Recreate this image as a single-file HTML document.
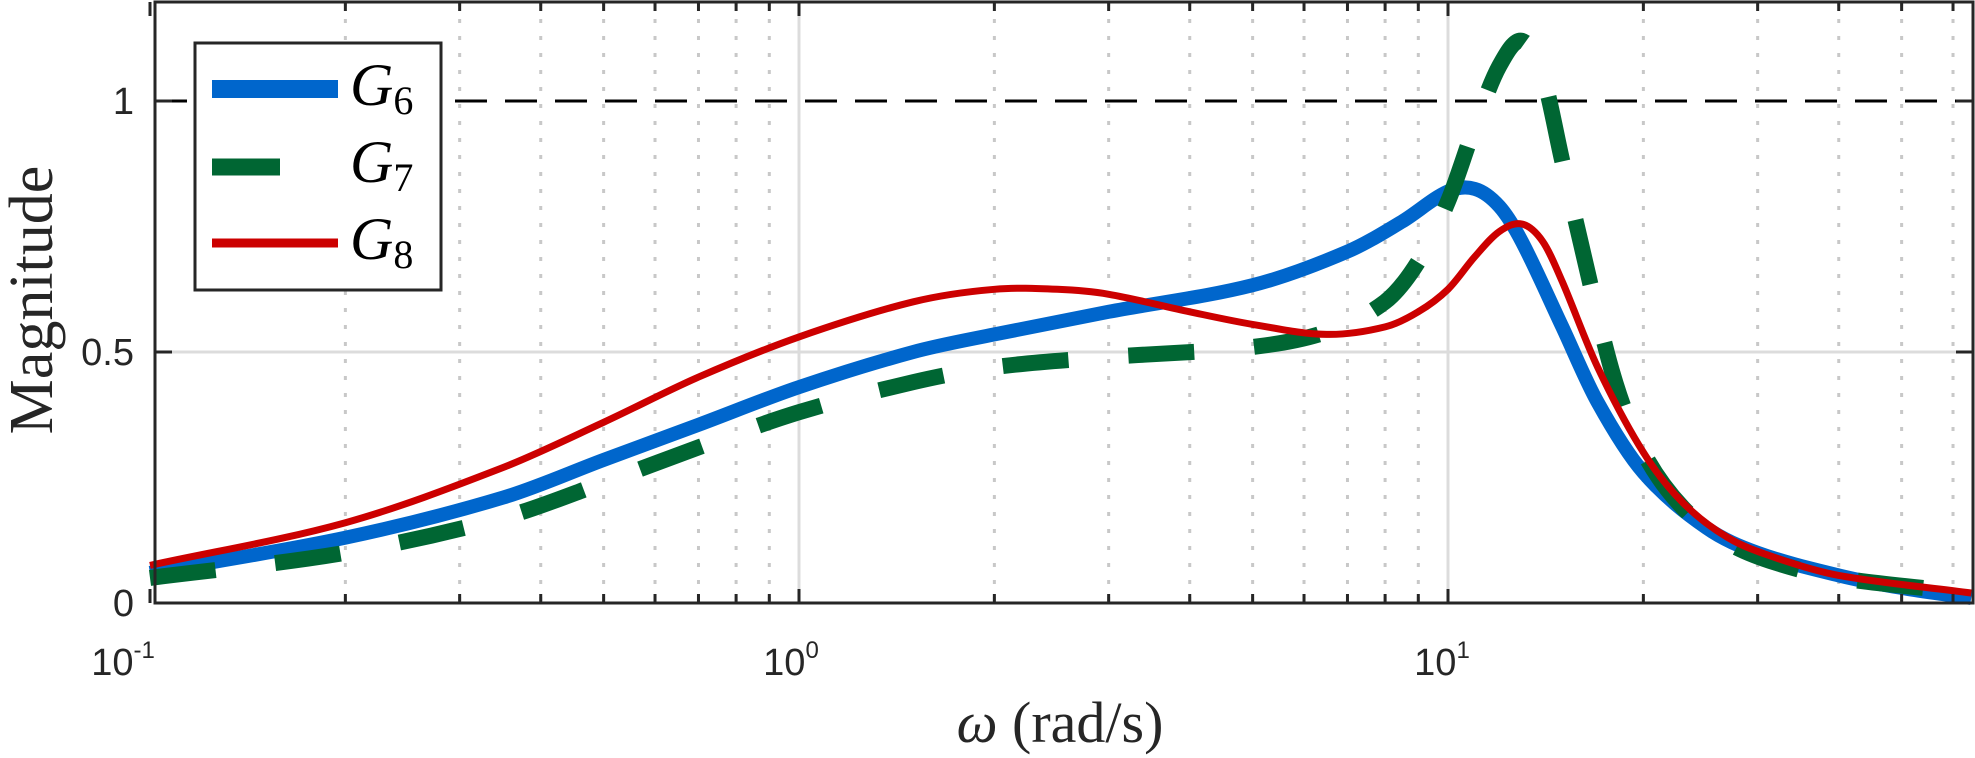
<!DOCTYPE html>
<html><head><meta charset="utf-8"><style>
html,body{margin:0;padding:0;background:#fff;width:1975px;height:758px;overflow:hidden}
svg{display:block}
</style></head><body>
<svg id="s" width="1975" height="758" viewBox="0 0 1975 758" xmlns="http://www.w3.org/2000/svg">
<g id="grid"></g>
<line x1="155" y1="101" x2="1973" y2="101" stroke="#000" stroke-width="3" stroke-dasharray="32,18"/>
<g id="curves" fill="none" stroke-linejoin="round"></g>
<rect x="155" y="2" width="1818" height="601" fill="none" stroke="#262626" stroke-width="3"/>
<g id="ticks" stroke="#262626" stroke-width="3"></g>
<g font-family="Liberation Sans, sans-serif" font-size="38" fill="#262626">
<text x="134" y="114" text-anchor="end">1</text>
<text x="134" y="365" text-anchor="end">0.5</text>
<text x="134" y="616" text-anchor="end">0</text>
<text x="123" y="675" text-anchor="middle">10<tspan font-size="24" dy="-17">-1</tspan></text>
<text x="791" y="675" text-anchor="middle">10<tspan font-size="24" dy="-17">0</tspan></text>
<text x="1442" y="675" text-anchor="middle">10<tspan font-size="24" dy="-17">1</tspan></text>
</g>
<g font-family="Liberation Serif, serif" fill="#262626">
<text x="1060" y="742" font-size="58" text-anchor="middle"><tspan font-style="italic">ω</tspan> (rad/s)</text>
<text transform="translate(52,300) rotate(-90)" font-size="62" text-anchor="middle">Magnitude</text>
</g>
<rect x="195" y="43" width="246" height="247" fill="#fff" stroke="#262626" stroke-width="3"/>
<line x1="212" y1="89" x2="338" y2="89" stroke="#0066cc" stroke-width="18"/>
<line x1="212" y1="167" x2="280" y2="167" stroke="#006633" stroke-width="17"/>
<line x1="212" y1="243" x2="338" y2="243" stroke="#cc0000" stroke-width="9"/>
<g font-family="Liberation Serif, serif" font-size="60" fill="#000">
<text x="350" y="105" font-style="italic">G<tspan font-style="normal" font-size="40" dy="9">6</tspan></text>
<text x="350" y="182" font-style="italic">G<tspan font-style="normal" font-size="40" dy="9">7</tspan></text>
<text x="350" y="259" font-style="italic">G<tspan font-style="normal" font-size="40" dy="9">8</tspan></text>
</g>
</svg>
<script>
var NS="http://www.w3.org/2000/svg";
function X(w){return 799+649*Math.log10(w);}
function Y(v){return 603-502*v;}
function el(p,t,a){var e=document.createElementNS(NS,t);for(var k in a)e.setAttribute(k,a[k]);p.appendChild(e);return e;}
var g=document.getElementById('grid'),tk=document.getElementById('ticks');
var decs=[0.1,1,10];
decs.forEach(function(d){for(var m=1;m<10;m++){var w=d*m;var x=X(w);if(x>1972)break;
 if(m==1){ if(x>156) el(g,'line',{x1:x,y1:2,x2:x,y2:603,stroke:'#dcdcdc','stroke-width':3});}
 else el(g,'line',{x1:x,y1:2,x2:x,y2:603,stroke:'#c8c8c8','stroke-width':3,'stroke-dasharray':'4,13'});
 var L=m==1?14:9;
 el(tk,'line',{x1:x,y1:603,x2:x,y2:603-L});el(tk,'line',{x1:x,y1:2,x2:x,y2:2+L});}});
el(g,'line',{x1:155,y1:Y(0.5),x2:1973,y2:Y(0.5),stroke:'#dcdcdc','stroke-width':3});
[0,0.5,1].forEach(function(v){el(tk,'line',{x1:155,y1:Y(v),x2:172,y2:Y(v)});el(tk,'line',{x1:1973,y1:Y(v),x2:1956,y2:Y(v)});});
function path(pts){
 var P=pts.map(function(p){return [X(p[0]),Y(p[1])];});
 var d='M'+P[0][0].toFixed(1)+','+P[0][1].toFixed(1);
 for(var i=0;i<P.length-1;i++){var p0=P[Math.max(0,i-1)],p1=P[i],p2=P[i+1],p3=P[Math.min(P.length-1,i+2)];
  var h=p2[0]-p1[0];
  var s1=(p2[1]-p0[1])/(p2[0]-p0[0]||1), s2=(p3[1]-p1[1])/(p3[0]-p1[0]||1);
  var c1=[p1[0]+h/3,p1[1]+s1*h/3],c2=[p2[0]-h/3,p2[1]-s2*h/3];
  d+='C'+c1[0].toFixed(1)+','+c1[1].toFixed(1)+' '+c2[0].toFixed(1)+','+c2[1].toFixed(1)+' '+p2[0].toFixed(1)+','+p2[1].toFixed(1);}
 return d;}
var blue=[[0.1,0.06],[0.2,0.13],[0.35,0.21],[0.5,0.285],[0.7,0.355],[1,0.43],[1.5,0.5],[2,0.535],[3,0.58],[5,0.633],[7,0.7],[8.5,0.76],[10,0.82],[11,0.825],[12,0.79],[13,0.72],[15,0.55],[17,0.4],[20,0.26],[25,0.15],[30,0.1],[40,0.055],[50,0.03],[64,0.01]];
var green=[[0.1,0.05],[0.2,0.1],[0.35,0.17],[0.5,0.24],[0.7,0.31],[1,0.38],[1.5,0.44],[2,0.47],[3,0.49],[5,0.51],[6.5,0.54],[8,0.6],[9,0.68],[10,0.8],[11,0.95],[12,1.07],[13,1.12],[14,1.05],[15,0.88],[16,0.72],[18,0.45],[20,0.3],[23,0.19],[27,0.12],[32,0.08],[40,0.05],[64,0.02]];
var red=[[0.1,0.075],[0.2,0.16],[0.35,0.27],[0.5,0.36],[0.7,0.45],[1,0.53],[1.5,0.6],[2,0.625],[2.5,0.625],[3,0.615],[4,0.58],[5,0.555],[6.5,0.535],[8,0.55],[9,0.58],[10,0.625],[11,0.69],[12,0.74],[13,0.755],[14,0.72],[15,0.64],[17,0.47],[20,0.3],[23,0.2],[27,0.13],[32,0.09],[40,0.055],[64,0.02]];
var c=document.getElementById('curves');
el(c,'path',{d:path(blue),stroke:'#0066cc','stroke-width':14});
el(c,'path',{d:path(green),stroke:'#006633','stroke-width':16,'stroke-dasharray':'66,60'});
el(c,'path',{d:path(red),stroke:'#cc0000','stroke-width':7});
</script>
</body></html>
